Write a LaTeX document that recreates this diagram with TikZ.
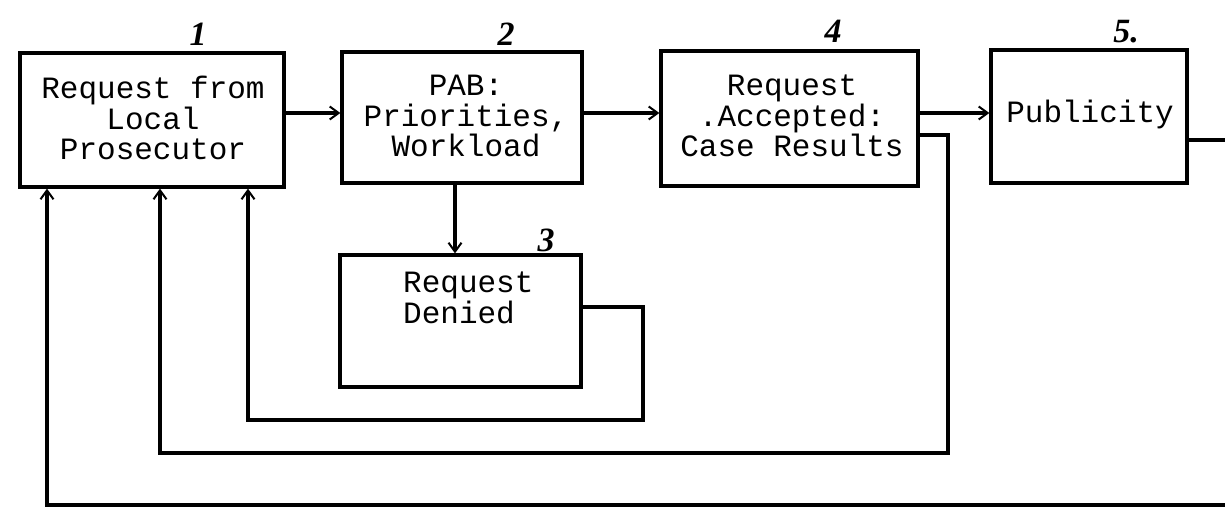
\documentclass[tikz,border=0pt]{standalone}
\usepackage{fontspec}
\setmonofont{Liberation Mono}
\newfontfamily\handfont{Liberation Serif}
\usetikzlibrary{arrows.meta}
\tikzset{
  box/.style={draw, line width=3.2pt, rectangle, inner sep=0pt},
  boxtext/.style={font=\ttfamily\fontsize{31}{30.5}\selectfont, align=center, inner sep=0pt},
  num/.style={font=\handfont\itshape\bfseries\fontsize{34}{34}\selectfont, inner sep=0pt},
  conn/.style={line width=3.2pt},
  arr/.style={conn, -{Straight Barb[length=9pt,width=13pt,line width=2pt]}},
}
\begin{document}
\begin{tikzpicture}[x=1pt,y=-1pt]
\useasboundingbox (0,0) rectangle (1225,508);
\fill[white] (0,0) rectangle (1225,508);
% boxes
\node[box, minimum width=264pt, minimum height=134pt] (box1) at (152,120) {};
\node[box, minimum width=240pt, minimum height=131pt] (box2) at (462,117.5) {};
\node[box, minimum width=241pt, minimum height=132pt] (box3) at (460.5,321) {};
\node[box, minimum width=257pt, minimum height=135pt] (box4) at (789.5,118.5) {};
\node[box, minimum width=196pt, minimum height=133pt] (box5) at (1089,116.5) {};
% texts
\node[boxtext] (t1) at (153,118) {Request from\\Local\\Prosecutor};
\node[boxtext] (t2) at (466,116) {PAB:\\Priorities,\\Workload};
\node[boxtext, align=left, anchor=north west] (t3) at (403,272) {Request\\Denied};
\node[boxtext] (t4) at (792,116) {Request\\.Accepted:\\Case Results};
\node[boxtext] (t5) at (1090,114) {Publicity};
% numbers
\node[num] (n1) at (198,34) {1};
\node[num] (n2) at (506,34) {2};
\node[num] (n3) at (546,240) {3};
\node[num] (n4) at (833,31) {4};
\node[num] (n5) at (1126,32) {5.};
% coordinates
\coordinate (m) at (0,113);
\coordinate (d23) at (455,0);
\coordinate (r4) at (948,135);
\coordinate (b4) at (160,453);
\coordinate (r3) at (643,307);
\coordinate (b3) at (248,420);
\coordinate (eo) at (1225,505);
\coordinate (bo) at (47,505);
\coordinate (e5) at (1225,140);
% connectors
\draw[arr] (box1.east |- m) -- (box2.west |- m);
\draw[arr] (box2.east |- m) -- (box4.west |- m);
\draw[arr] (box4.east |- m) -- (box5.west |- m);
\draw[arr] (box2.south -| d23) -- (box3.north -| d23);
\draw[arr] (box4.east |- r4) -- (r4) |- (b4) -- (box1.south -| b4);
\draw[arr] (box3.east |- r3) -- (r3) |- (b3) -- (box1.south -| b3);
\draw[arr] (eo) -- (bo) -- (box1.south -| bo);
\draw[conn] (box5.east |- e5) -- (e5);
\end{tikzpicture}
\end{document}
